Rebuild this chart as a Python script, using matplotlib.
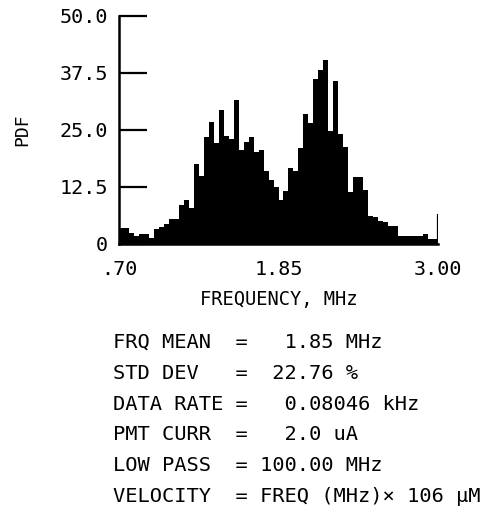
#!/usr/bin/env python

# LDV frequency histogram (PDF) with the run statistics printed below it

import numpy as np
import matplotlib
matplotlib.use("Agg")
import matplotlib.pyplot as plt

# frequency range of the analyser, MHz
f_min = 0.70
f_max = 3.00
n_bins = 64

# PDF value of each bin
pdf = [3.3, 3.3, 2.4, 1.6, 2.0, 2.0, 1.2, 3.1,
       3.6, 4.2, 5.3, 5.3, 8.4, 9.5, 7.7, 17.5,
       14.8, 23.4, 26.7, 22.0, 29.4, 23.5, 22.9, 31.4,
       20.5, 22.3, 23.4, 20.1, 20.5, 16.0, 14.0, 12.5,
       9.5, 11.5, 16.5, 16.0, 21.0, 28.4, 26.5, 36.2,
       38.1, 40.3, 24.8, 35.6, 24.1, 21.2, 11.4, 14.6,
       14.6, 11.7, 6.0, 5.8, 5.0, 4.7, 3.8, 3.8,
       1.6, 1.6, 1.6, 1.6, 1.6, 2.1, 1.0, 1.0]
# overflow marker drawn at the right end of the axis
end_marker = 6.5

y_ticks = [0, 12.5, 25.0, 37.5, 50.0]
y_ticklabels = ["0", "12.5", "25.0", "37.5", "50.0"]
x_ticks = [0.70, 1.85, 3.00]
x_ticklabels = [".70", "1.85", "3.00"]

stat_names = ["FRQ MEAN", "STD DEV", "DATA RATE", "PMT CURR", "LOW PASS", "VELOCITY"]
stat_values = ["  1.85 MHz", " 22.76 %", "  0.08046 kHz", "  2.0 uA",
               "100.00 MHz", "FREQ (MHz)\u00d7 106 \u00b5M"]

FONT = "DejaVu Sans Mono"
plt.rcParams["font.family"] = [FONT, "DejaVu Sans"]

W, H = 496, 512
fig = plt.figure(figsize=(W / 100, H / 100), dpi=100)
# axes box in pixels: x 119..438, y 15.7..243.5 (from top)
ax = fig.add_axes([119 / W, 1 - 243.5 / H, 319 / W, (243.5 - 15.7) / H])

edges = np.linspace(f_min, f_max, n_bins + 1)
ax.bar(edges[:-1], pdf, width=np.diff(edges), align="edge",
       color="black", linewidth=0)
ax.vlines(f_max, 0, end_marker, color="black", linewidth=1.6)

ax.set_xlim(f_min, f_max)
ax.set_ylim(0, 50)

for side in ["top", "right"]:
    ax.spines[side].set_visible(False)
ax.spines["left"].set_linewidth(1.8)
ax.spines["bottom"].set_linewidth(1.8)

ax.set_yticks(y_ticks)
ax.set_yticklabels(y_ticklabels, fontsize=14.5)
ax.tick_params(axis="y", direction="in", length=20, width=1.6, pad=8)
ax.set_xticks(x_ticks)
ax.set_xticklabels(x_ticklabels, fontsize=14.5)
ax.tick_params(axis="x", length=0, pad=12)

ax.set_xlabel("FREQUENCY, MHz", fontsize=13.5, labelpad=8)
ax.set_ylabel("PDF", fontsize=13, labelpad=20)

# statistics block, monospaced so the "=" signs line up
for i, (name, value) in enumerate(zip(stat_names, stat_values)):
    line = name.ljust(10) + "= " + value
    fig.text(113 / W, 1 - (348 + 30.8 * i) / H, line, fontsize=14.7,
             ha="left", va="baseline")

fig.savefig("out.png", dpi=100)
